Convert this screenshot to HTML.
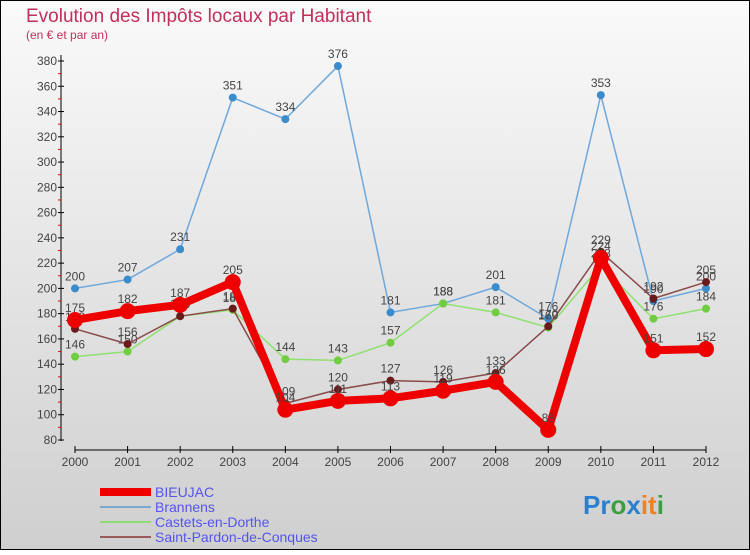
<!DOCTYPE html>
<html><head><meta charset="utf-8"><style>
html,body{margin:0;padding:0}
body{width:750px;height:550px;overflow:hidden;font-family:"Liberation Sans",sans-serif}
svg text{font-family:"Liberation Sans",sans-serif}
</style></head><body>
<svg id="c" width="750" height="550" xmlns="http://www.w3.org/2000/svg">
<defs><linearGradient id="bg" x1="0" y1="0" x2="0" y2="1"><stop offset="0" stop-color="#fafafa"/><stop offset="1" stop-color="#cfcfcf"/></linearGradient></defs>
<rect x="0.5" y="0.5" width="749" height="549" fill="url(#bg)" stroke="#000"/>
<text x="26" y="22" font-size="19" fill="#c0305a">Evolution des Impôts locaux par Habitant</text>
<text x="26" y="39" font-size="12" fill="#c0305a">(en € et par an)</text>
<g id="axes"></g><g id="series"></g><g id="legend"></g>
<text x="583" y="514" font-size="26" font-weight="bold"><tspan fill="#2b7fd0">Pr</tspan><tspan fill="#3aa040">o</tspan><tspan fill="#2b7fd0">x</tspan><tspan fill="#f08020">it</tspan><tspan fill="#3aa040">i</tspan></text>
</svg>
<script>
const years=["2000","2001","2002","2003","2004","2005","2006","2007","2008","2009","2010","2011","2012"];
const yTicks=[80,100,120,140,160,180,200,220,240,260,280,300,320,340,360,380];
const bieujac=[175,182,187,205,104,111,113,119,126,88,224,151,152];
const brannens=[200,207,231,351,334,376,181,188,201,176,353,190,200];
const castets=[146,150,178,183,144,143,157,188,181,169,218,176,184];
const pardon=[168,156,178,184,109,120,127,126,133,170,229,192,205];
const NS="http://www.w3.org/2000/svg";
function X(i){return 75+i*(706-75)/12;}
function Y(v){return 440-(v-80)*(440-61)/300;}
function mk(t,a,p){const e=document.createElementNS(NS,t);for(const k in a)e.setAttribute(k,a[k]);p.appendChild(e);return e;}
const ax=document.getElementById('axes');
let l=mk('line',{x1:61,y1:55,x2:61,y2:441,stroke:'#000'},ax);


yTicks.forEach((v,i)=>{
  mk('line',{x1:58,y1:Y(v),x2:64,y2:Y(v),stroke:'#000'},ax);
  if(i<yTicks.length-1)mk('line',{x1:58,y1:Y(v+10),x2:61,y2:Y(v+10),stroke:'#e00'},ax);
  const t=mk('text',{x:57,y:Y(v)+4,'font-size':12,fill:'#444','text-anchor':'end'},ax);t.textContent=v;
  
  
});
l=mk('line',{x1:75,y1:450,x2:706,y2:450,stroke:'#000'},ax);


years.forEach((y,i)=>{
  mk('line',{x1:X(i),y1:446,x2:X(i),y2:453,stroke:'#000'},ax);
  const t=mk('text',{x:X(i),y:466,'font-size':12,fill:'#444','text-anchor':'middle'},ax);t.textContent=y;
  
  
});
const S=[
 {n:'Brannens',d:brannens,c:'#6fa8dc',m:'#3a8ccc',w:1.5,r:4},
 {n:'Castets-en-Dorthe',d:castets,c:'#90e070',m:'#70cc40',w:1.5,r:4},
 {n:'Saint-Pardon-de-Conques',d:pardon,c:'#8a4a4a',m:'#6a1a1a',w:1.5,r:4},
 {n:'BIEUJAC',d:bieujac,c:'#ee0000',m:'#ee0000',w:8,r:8}];
const sg=document.getElementById('series');
S.forEach(s=>{
  const g=mk('g',{},sg);
  
  
  const p=mk('polyline',{points:s.d.map((v,i)=>X(i)+','+Y(v)).join(' '),fill:'none',stroke:s.c,'stroke-width':s.w,'stroke-linejoin':'round'},g);
  
  
  s.d.forEach((v,i)=>{
    const c=mk('circle',{cx:X(i),cy:Y(v),r:s.r,fill:s.m},g);
    
    
    const t=mk('text',{x:X(i),y:Y(v)-8,'font-size':12,fill:'#444','text-anchor':'middle'},g);t.textContent=v;
    
    
  });
});
const lg=document.getElementById('legend');
[['BIEUJAC','#ee0000',8],['Brannens','#7aaad0',2],['Castets-en-Dorthe','#90dc70',2],['Saint-Pardon-de-Conques','#9a5a5a',2]].forEach((e,i)=>{
  const y=492+i*15;
  const g=mk('g',{},lg);
  
  
  mk('line',{x1:100,y1:y,x2:151,y2:y,stroke:e[1],'stroke-width':e[2]},g);
  const t=mk('text',{x:155,y:y+5,'font-size':14,fill:'#5555ee'},g);t.textContent=e[0];
});
</script>
</body></html>
